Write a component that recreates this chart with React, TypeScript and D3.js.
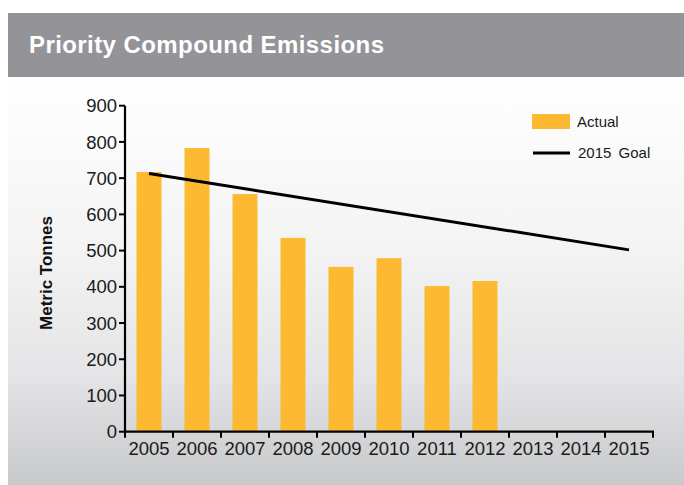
import React from "react";
import * as d3 from "d3";

const years = ["2005", "2006", "2007", "2008", "2009", "2010", "2011", "2012", "2013", "2014", "2015"];
const actualYears = ["2005", "2006", "2007", "2008", "2009", "2010", "2011", "2012"];
const actualValues = [717, 783, 656, 535, 455, 479, 402, 416];
const goalYears = ["2005", "2015"];
const goalValues = [713, 502];
const yTicks = [0, 100, 200, 300, 400, 500, 600, 700, 800, 900];

const W = 684;
const H = 485;
const FONT = "'Liberation Sans', Arial, Helvetica, sans-serif";

export default function App() {
  const x = d3.scaleBand<string>().domain(years).range([125, 653]).padding(0);
  const y = d3.scaleLinear().domain([0, 900]).range([431.7, 105.7]);
  const bw = x.bandwidth() * 0.52;
  const line = d3
    .line<[string, number]>()
    .x((d) => (x(d[0]) as number) + x.bandwidth() / 2)
    .y((d) => y(d[1]));
  const goalPts: [string, number][] = goalYears.map((g, i) => [g, goalValues[i]]);
  const boundaries = d3.range(years.length + 1).map((i) => 125 + i * x.step());

  return (
    <svg
      width={W}
      height={H}
      style={{ position: "absolute", left: 0, top: 0 }}
      fontFamily={FONT}
    >
      <defs>
        <linearGradient id="bg" x1="0" y1="0" x2="0" y2="1">
          <stop offset="0" stopColor="#ffffff" />
          <stop offset="0.4" stopColor="#f4f4f4" />
          <stop offset="0.72" stopColor="#e5e5e7" />
          <stop offset="1" stopColor="#c8c9cb" />
        </linearGradient>
      </defs>
      <rect x={0} y={0} width={W} height={H} fill="#ffffff" />
      <rect x={8} y={77} width={W - 8} height={H - 77} fill="url(#bg)" />
      <rect x={8} y={13} width={W - 8} height={64} fill="#949498" />
      <text
        x={29}
        y={53}
        fill="#ffffff"
        fontSize={24}
        fontWeight="bold"
        textLength={355}
        lengthAdjust="spacing"
      >
        Priority Compound Emissions
      </text>

      {/* bars */}
      {actualYears.map((yr, i) => (
        <rect
          key={yr}
          x={(x(yr) as number) + (x.bandwidth() - bw) / 2}
          y={y(actualValues[i])}
          width={bw}
          height={y(0) - y(actualValues[i])}
          fill="#fcb931"
        />
      ))}

      {/* goal line */}
      <path d={line(goalPts) || ""} fill="none" stroke="#000" strokeWidth={3} />

      {/* y axis */}
      <line x1={125} x2={125} y1={y(900)} y2={y(0) + 1} stroke="#000" strokeWidth={2.2} />
      {yTicks.map((t) => (
        <g key={t}>
          <line x1={119} x2={125} y1={y(t)} y2={y(t)} stroke="#000" strokeWidth={2} />
          <text
            x={117}
            y={y(t)}
            dy="0.36em"
            textAnchor="end"
            fontSize={18.5}
            fill="#1a1a1a"
          >
            {t}
          </text>
        </g>
      ))}

      {/* x axis */}
      <line x1={124} x2={654} y1={y(0)} y2={y(0)} stroke="#000" strokeWidth={2.2} />
      {boundaries.map((b, i) => (
        <line key={i} x1={b} x2={b} y1={y(0)} y2={y(0) + 6} stroke="#000" strokeWidth={2} />
      ))}
      {years.map((yr) => (
        <text
          key={yr}
          x={(x(yr) as number) + x.bandwidth() / 2}
          y={455}
          textAnchor="middle"
          fontSize={18.5}
          fill="#1a1a1a"
        >
          {yr}
        </text>
      ))}

      {/* y label */}
      <text
        transform={`translate(52, 273) rotate(-90)`}
        textAnchor="middle"
        fontSize={17}
        fontWeight="bold"
        fill="#111"
      >
        Metric Tonnes
      </text>

      {/* legend */}
      <rect x={532} y={114} width={38} height={15} fill="#fcb931" />
      <text x={577} y={127} fontSize={15} fill="#1a1a1a">
        Actual
      </text>
      <line x1={533} x2={570} y1={153} y2={153} stroke="#000" strokeWidth={3} />
      <text x={578} y={158} fontSize={15} fill="#1a1a1a" wordSpacing={3}>
        2015 Goal
      </text>
    </svg>
  );
}
